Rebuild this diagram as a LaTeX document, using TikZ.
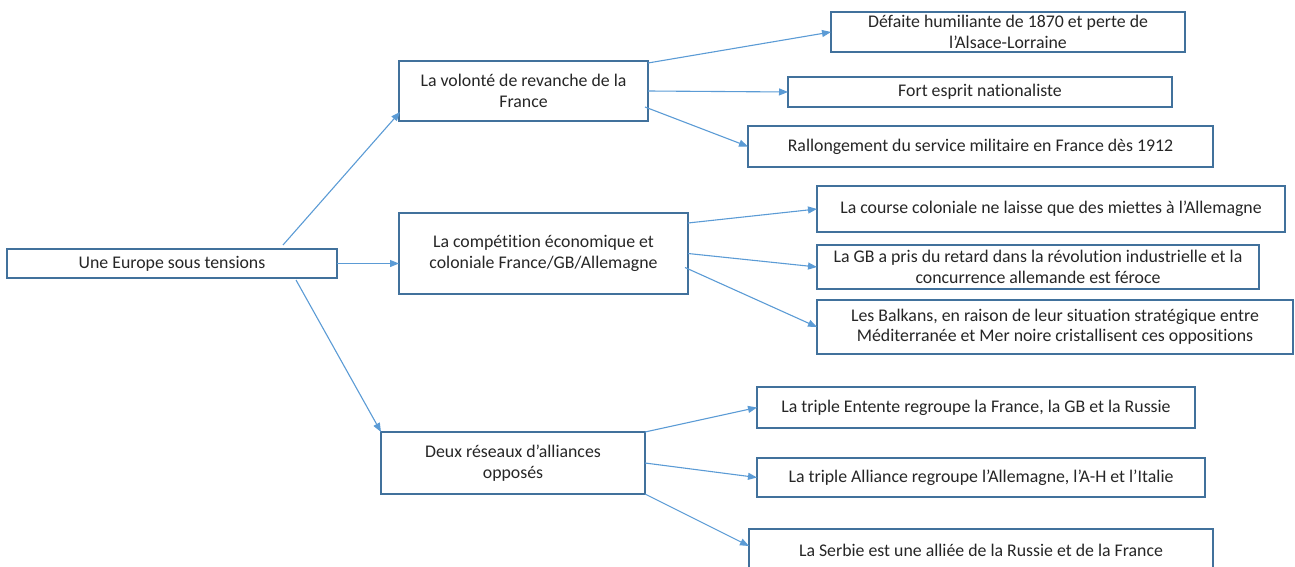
\documentclass[tikz,border=0pt]{standalone}
\usepackage{fontspec}
\setmainfont{Carlito}[Ligatures=NoCommon]
\usetikzlibrary{arrows.meta}
\definecolor{boxline}{HTML}{41719C}
\definecolor{arrowline}{HTML}{5B9BD5}
\definecolor{ink}{HTML}{262626}
\begin{document}
\begin{tikzpicture}[x=1pt,y=-1pt,
  box/.style={draw=boxline, line width=1.1pt, fill=white, inner sep=0pt, outer sep=0pt,
    align=center, text=ink, font=\fontsize{17.8}{20.5}\selectfont},
  link/.style={draw=arrowline, line width=1.1pt, -{Triangle[length=9pt,width=7pt]}}]
\useasboundingbox (0,0) rectangle (1295,567);

% root
\node[box, minimum width=330, minimum height=29] (root) at (172,263.5) {Une Europe sous tensions};

% first branch: revenge
\node[box, minimum width=249, minimum height=60] (A) at (523.5,91) {La volonté de revanche de la\\France};
\node[box, minimum width=354, minimum height=40] (A1) at (1008,32) {Défaite humiliante de 1870 et perte de\\l’Alsace-Lorraine};
\node[box, minimum width=384, minimum height=30] (A2) at (980,92) {Fort esprit nationaliste};
\node[box, minimum width=465, minimum height=41] (A3) at (980.5,146.5) {Rallongement du service militaire en France dès 1912};

% second branch: competition
\node[box, minimum width=289, minimum height=81] (B) at (543.5,253.5) {La compétition économique et\\coloniale France/GB/Allemagne};
\node[box, minimum width=468, minimum height=46] (B1) at (1051,209) {La course coloniale ne laisse que des miettes à l’Allemagne};
\node[box, minimum width=442, minimum height=44] (B2) at (1038,267) {La GB a pris du retard dans la révolution industrielle et la\\concurrence allemande est féroce};
\node[box, minimum width=476, minimum height=54] (B3) at (1055,327) {Les Balkans, en raison de leur situation stratégique entre\\Méditerranée et Mer noire cristallisent ces oppositions};

% third branch: alliances
\node[box, minimum width=264, minimum height=62] (C) at (513,463) {Deux réseaux d’alliances\\opposés};
\node[box, minimum width=438, minimum height=41] (C1) at (976,407.5) {La triple Entente regroupe la France, la GB et la Russie};
\node[box, minimum width=448, minimum height=39] (C2) at (981,477.5) {La triple Alliance regroupe l’Allemagne, l’A-H et l’Italie};
\node[box, minimum width=464, minimum height=42] (C3) at (981,550) {La Serbie est une alliée de la Russie et de la France};

% connectors
\draw[link] ([shift={(111,-4)}]root.north) -- ([shift={(1,-9)}]A.south west);
\draw[link] (root.east) -- (root.east -| B.west);
\draw[link] ([shift={(124,2)}]root.south) -- (C.north west);

\draw[link] ([shift={(0,2)}]A.north east) -- (A1.west);
\draw[link] (A.east) -- (A2.west);
\draw[link] ([shift={(-3,-14)}]A.south east) -- (A3.west);

\draw[link] ([shift={(0,10)}]B.north east) -- (B1.west);
\draw[link] (B.east) -- (B2.west);
\draw[link] ([shift={(-3,14)}]B.east) -- (B3.west);

\draw[link] (C.north east) -- (C1.west);
\draw[link] (C.east) -- (C2.west);
\draw[link] (C.south east) -- ([shift={(0,-4)}]C3.west);
\end{tikzpicture}
\end{document}
